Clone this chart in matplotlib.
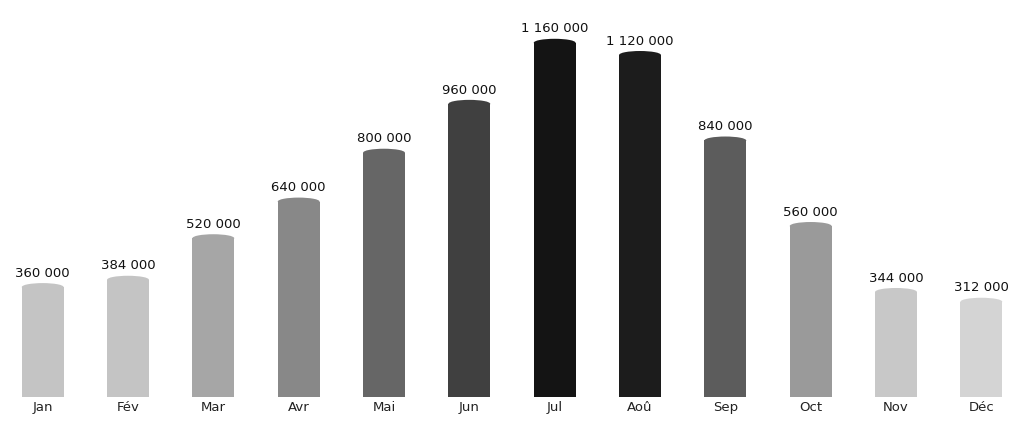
import matplotlib
matplotlib.use("Agg")
import matplotlib.pyplot as plt
from matplotlib.patches import Ellipse

months = ["Jan", "Fév", "Mar", "Avr", "Mai", "Jun", "Jul", "Aoû", "Sep", "Oct", "Nov", "Déc"]
values = [360000, 384000, 520000, 640000, 800000, 960000, 1160000, 1120000, 840000, 560000, 344000, 312000]
colors = ["#c4c4c4", "#c4c4c4", "#a6a6a6", "#888888", "#666666", "#404040",
          "#141414", "#1c1c1c", "#5c5c5c", "#9a9a9a", "#c8c8c8", "#d4d4d4"]

fig = plt.figure(figsize=(10.24, 4.22), dpi=100)
ax = fig.add_axes([0, 25 / 422, 1, 1 - 25 / 422])

width = 0.49
cap_h = 26000
x = range(len(months))
ax.bar(x, values, width=width, color=colors)
for i, v in enumerate(values):
    ax.add_patch(Ellipse((i, v), width, cap_h, color=colors[i], lw=0))
    label = f"{v:,}".replace(",", " ")
    ax.text(i, v + 24000, label, ha="center", va="bottom", fontsize=9.5, color="#111111")

ax.set_xlim(-0.5, len(months) - 0.5)
ax.set_ylim(0, 1300000)
ax.set_xticks(list(x))
ax.set_xticklabels(months, fontsize=9.5, color="#222222")
ax.tick_params(axis="x", length=0, pad=3)
ax.set_yticks([])
for s in ax.spines.values():
    s.set_visible(False)

fig.savefig("out.png", dpi=100)
